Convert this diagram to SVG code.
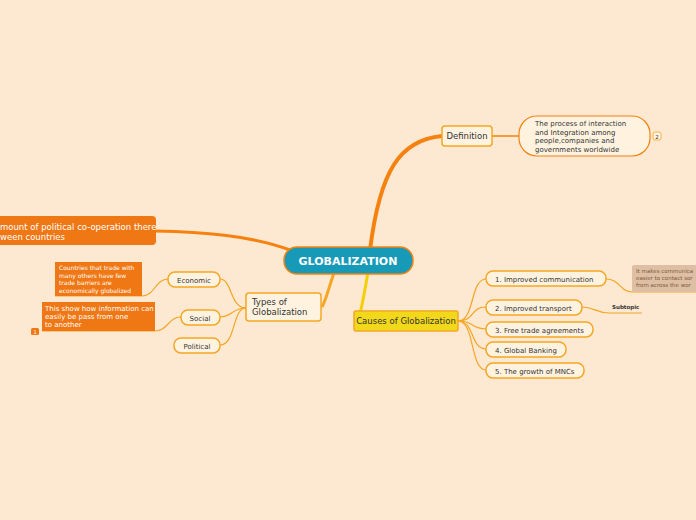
<svg xmlns="http://www.w3.org/2000/svg" width="696" height="520" viewBox="0 0 696 520">
<style>
text{font-family:"DejaVu Sans",Verdana,sans-serif;fill:#333}
.c{fill:none;stroke:#f5a623;stroke-width:1.2}
.t{fill:#fff3e0;stroke:#f5a623;stroke-width:1.5}
.o{fill:#ef7714}
.w{fill:#fff}
</style>
<rect width="696" height="520" fill="#fde8d2"/>
<g id="connectors">
<path d="M370,250 C380,170 400,140 442,136" fill="none" stroke="#f5820f" stroke-width="4"/>
<path d="M492,136 L519,136" stroke="#f5820f" stroke-width="1.5"/>
<path d="M290,250 C250,235 200,232 155,231" fill="none" stroke="#f5820f" stroke-width="3"/>
<path d="M335,270 C328,290 326,300 322,307" fill="none" stroke="#f5a623" stroke-width="3"/>
<path d="M368,272 C365,290 362,305 360,314" fill="none" stroke="#f5d000" stroke-width="3"/>
<path class="c" d="M246,308 C230,308 232,279 220,279"/>
<path class="c" d="M246,308 C232,308 232,317 220,317"/>
<path class="c" d="M246,308 C232,308 236,345 220,345"/>
<path class="c" d="M168,279 C155,279 155,296 142,296 L55,296"/>
<path class="c" d="M181,317 C168,317 168,331 155,331 L42,331"/>
<path class="c" d="M458,321 C475,321 470,279 486,279"/>
<path class="c" d="M458,321 C475,321 470,307 486,307"/>
<path class="c" d="M458,321 C475,321 470,329 486,329"/>
<path class="c" d="M458,321 C475,321 470,349 486,349"/>
<path class="c" d="M458,321 C475,321 470,370 486,370"/>
<path class="c" d="M606,279 C620,279 620,292 632,292 L696,292"/>
<path class="c" d="M582,307 C595,307 595,313 610,313 L642,313"/>
</g>
<g id="center"><rect x="284" y="247" width="129" height="27" rx="13" fill="#1799b8" stroke="#f5820f" stroke-width="1.5"/><text x="348" y="265" text-anchor="middle" font-size="11" font-weight="bold" fill="#fff" style="fill:#fff">GLOBALIZATION</text></g>
<g id="definition"><rect x="442" y="126" width="50" height="20" rx="3" class="t" stroke="#f5820f"/><text x="467" y="139" text-anchor="middle" font-size="8.5">Definition</text></g>
<g id="def-text"><rect x="519" y="116" width="131" height="40" rx="18" fill="#fff3e0" stroke="#f5820f" stroke-width="1.2"/><text font-size="7"><tspan x="535" y="126">The process of interaction</tspan><tspan x="535" y="135">and Integration among</tspan><tspan x="535" y="143">people,companies and</tspan><tspan x="535" y="152">governments worldwide</tspan></text><rect x="653" y="132" width="8" height="8" rx="2" fill="#fff3e0" stroke="#f5a623" stroke-width="0.8"/><text x="657" y="138.5" text-anchor="middle" font-size="5.5">2</text></g>
<g id="political-coop"><rect x="-10" y="216" width="166" height="29" rx="4" class="o"/><text font-size="8.5" style="fill:#fff"><tspan x="0" y="230">mount of political co-operation there</tspan><tspan x="0" y="240">ween countries</tspan></text></g>
<g id="types"><rect x="246" y="293" width="75" height="28" rx="3" class="t"/><text font-size="8.5"><tspan x="252" y="305">Types of</tspan><tspan x="252" y="315">Globalization</tspan></text></g>
<g id="economic"><rect x="168" y="272" width="52" height="15" rx="7" class="t"/><text x="194" y="282.5" text-anchor="middle" font-size="7">Economic</text></g>
<g id="social"><rect x="181" y="310" width="39" height="15" rx="7" class="t"/><text x="200" y="320.5" text-anchor="middle" font-size="7">Social</text></g>
<g id="political"><rect x="174" y="338" width="46" height="15" rx="7" class="t"/><text x="197" y="348.5" text-anchor="middle" font-size="7">Political</text></g>
<g id="econ-note"><rect x="55" y="262" width="87" height="34" class="o"/><text font-size="6" style="fill:#fff"><tspan x="59" y="270">Countries that trade with</tspan><tspan x="59" y="277.5">many others have few</tspan><tspan x="59" y="285">trade barriers are</tspan><tspan x="59" y="292.5">economically globalized</tspan></text></g>
<g id="social-note"><rect x="42" y="302" width="113" height="29" class="o"/><text font-size="7" style="fill:#fff"><tspan x="45" y="311">This show how information can</tspan><tspan x="45" y="319">easily be pass from one</tspan><tspan x="45" y="327">to another</tspan></text><rect x="31" y="328" width="8" height="7" rx="1.5" class="o"/><text x="35" y="334" text-anchor="middle" font-size="5" style="fill:#fff">1</text></g>
<g id="causes"><rect x="354" y="311" width="104" height="20" rx="2" fill="#f2d81a" stroke="#f5a623" stroke-width="1.5"/><text x="406" y="324" text-anchor="middle" font-size="8.5">Causes of Globalization</text></g>
<g id="c1"><rect x="486" y="271" width="120" height="15" rx="7" class="t"/><text x="495" y="281.5" font-size="7">1. Improved  communication</text></g>
<g id="c2"><rect x="486" y="300" width="96" height="15" rx="7" class="t"/><text x="495" y="310.5" font-size="7">2. Improved transport</text></g>
<g id="c3"><rect x="486" y="322" width="107" height="15" rx="7" class="t"/><text x="495" y="332.5" font-size="7">3. Free trade agreements</text></g>
<g id="c4"><rect x="486" y="342" width="80" height="15" rx="7" class="t"/><text x="495" y="352.5" font-size="7">4. Global Banking</text></g>
<g id="c5"><rect x="486" y="363" width="98" height="15" rx="7" class="t"/><text x="495" y="373.5" font-size="7">5. The growth of MNCs</text></g>
<g id="comm-note"><rect x="632" y="265" width="70" height="27" rx="2" fill="#dfbfa3"/><text font-size="5.5" style="fill:#7a5a40"><tspan x="636" y="273">It makes communica</tspan><tspan x="636" y="280">easier to contact sor</tspan><tspan x="636" y="287">from across the wor</tspan></text></g>
<g id="subtopic"><text x="612" y="309" font-size="5.5" font-weight="bold">Subtopic</text></g>
</svg>
